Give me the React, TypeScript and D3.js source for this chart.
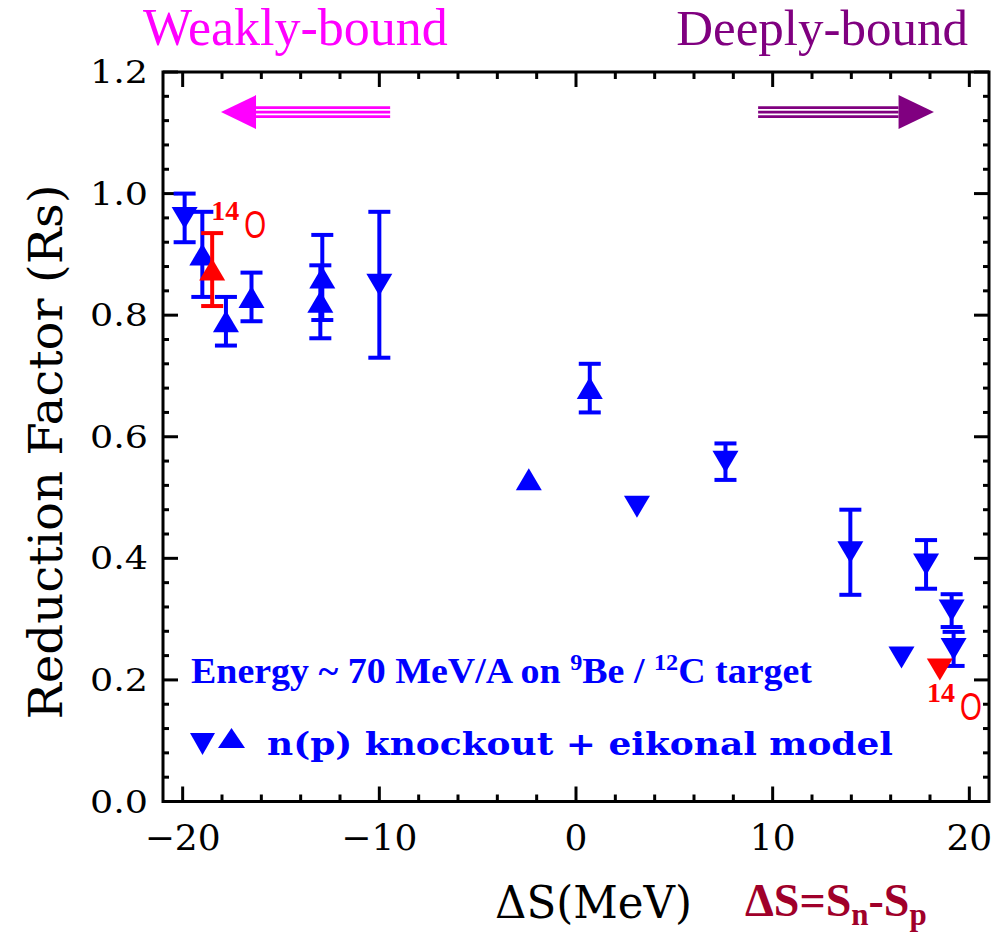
import React from 'react'
import * as d3 from 'd3'

// neutron/proton knockout reduction factors vs ΔS
const downX = [-19.9, -10.0, 3.1, 7.6, 13.95, 17.8, 19.1, 19.2, 16.55]
const downY = [0.96, 0.85, 0.485, 0.559, 0.41, 0.39, 0.314, 0.251, 0.237]
const downErr = [0.04, 0.12, 0, 0.03, 0.07, 0.04, 0.027, 0.028, 0]

const upX = [-19.0, -17.8, -16.5, -12.9, -13.0, -2.4, 0.7]
const upY = [0.9, 0.79, 0.83, 0.862, 0.822, 0.53, 0.68]
const upErr = [0.07, 0.04, 0.04, 0.07, 0.06, 0, 0.04]

// 14O points (red)
const o14UpX = [-18.5]
const o14UpY = [0.875]
const o14UpErr = [0.06]
const o14DownX = [18.5]
const o14DownY = [0.217]
const o14DownErr = [0]

// "14O" label anchors (data units)
const o14LabelX = [-18.55, 17.85]
const o14LabelY = [0.956, 0.163]

const xMajor = [-20, -10, 0, 10, 20]
const xLabels = ['\u221220', '\u221210', '0', '10', '20']
const yMajor = [0, 0.2, 0.4, 0.6, 0.8, 1.0, 1.2]
const yLabels = ['0.0', '0.2', '0.4', '0.6', '0.8', '1.0', '1.2']

// arrows: [tail, headBase, tip] in ΔS, at Rs level
const leftArrow = [-9.45, -16.27, -18.05]
const rightArrow = [9.26, 16.4, 18.2]
const arrowLevel = 1.134

const BLUE = '#0000ff'
const RED = '#ff0000'

const W = 992
const H = 937

export default function App() {
  const x = d3.scaleLinear().domain([-21, 21]).range([163, 989])
  const y = d3.scaleLinear().domain([0, 1.2]).range([801.5, 72])
  const [x0, x1] = x.range()
  const [y0, y1] = y.range()

  const xMinor = d3.range(-20, 21, 2).filter(v => v % 10 !== 0)
  const yMinor = d3.range(0, 1.2001, 0.04).filter(v => Math.abs(v * 5 - Math.round(v * 5)) > 1e-6)

  const tri = (kind, cx, cy, w = 26, h = 22) =>
    kind === 'up'
      ? `M${cx},${cy - h / 2}L${cx + w / 2},${cy + h / 2}L${cx - w / 2},${cy + h / 2}Z`
      : `M${cx - w / 2},${cy - h / 2}L${cx + w / 2},${cy - h / 2}L${cx},${cy + h / 2}Z`

  const series = (xs, ys, errs, kind, color, key) =>
    xs.map((v, i) => {
      const cx = x(v)
      const cy = y(ys[i])
      const e = errs[i]
      return (
        <g key={key + i}>
          {e > 0 && (
            <g stroke={color} strokeWidth={4}>
              <line x1={cx} x2={cx} y1={y(ys[i] + e)} y2={y(ys[i] - e)} />
              <line x1={cx - 11} x2={cx + 11} y1={y(ys[i] + e)} y2={y(ys[i] + e)} />
              <line x1={cx - 11} x2={cx + 11} y1={y(ys[i] - e)} y2={y(ys[i] - e)} />
            </g>
          )}
          <path d={tri(kind, cx, cy)} fill={color} />
        </g>
      )
    })

  const arrow = (pts, color) => {
    const [tail, base, tip] = pts.map(v => x(v))
    const ay = y(arrowLevel)
    return (
      <g>
        {[-4.5, 0, 4.5].map(o => (
          <line key={o} x1={tail} x2={base} y1={ay + o} y2={ay + o} stroke={color} strokeWidth={2.6} />
        ))}
        <path d={`M${tip},${ay}L${base},${ay - 17}L${base},${ay + 17}Z`} fill={color} />
      </g>
    )
  }

  const tickStroke = { stroke: '#000', strokeWidth: 3 }

  return (
    <svg width={W} height={H} style={{ position: 'absolute', left: 0, top: 0, background: '#fff' }}>
      {/* titles */}
      <text x={143} y={45} fontFamily="Liberation Serif" fontSize={52} fill="#ff00ff">Weakly-bound</text>
      <text x={968} y={45} textAnchor="end" fontFamily="Liberation Serif" fontSize={51} fill="#800080">Deeply-bound</text>

      {arrow(leftArrow, '#ff00ff')}
      {arrow(rightArrow, '#800080')}

      {/* ticks on all four sides, pointing inward */}
      <g>
        {xMajor.map(v => (
          <g key={'xM' + v}>
            <line x1={x(v)} x2={x(v)} y1={y0} y2={y0 - 15} {...tickStroke} />
            <line x1={x(v)} x2={x(v)} y1={y1} y2={y1 + 15} {...tickStroke} />
          </g>
        ))}
        {xMinor.map(v => (
          <g key={'xm' + v}>
            <line x1={x(v)} x2={x(v)} y1={y0} y2={y0 - 7} {...tickStroke} />
            <line x1={x(v)} x2={x(v)} y1={y1} y2={y1 + 7} {...tickStroke} />
          </g>
        ))}
        {yMajor.map(v => (
          <g key={'yM' + v}>
            <line x1={x0} x2={x0 + 15} y1={y(v)} y2={y(v)} {...tickStroke} />
            <line x1={x1} x2={x1 - 15} y1={y(v)} y2={y(v)} {...tickStroke} />
          </g>
        ))}
        {yMinor.map(v => (
          <g key={'ym' + v}>
            <line x1={x0} x2={x0 + 6} y1={y(v)} y2={y(v)} {...tickStroke} />
            <line x1={x1} x2={x1 - 6} y1={y(v)} y2={y(v)} {...tickStroke} />
          </g>
        ))}
      </g>
      <rect x={x0} y={y1} width={x1 - x0} height={y0 - y1} fill="none" stroke="#000" strokeWidth={3} />

      {/* tick labels */}
      {xMajor.map((v, i) => (
        <text key={'xl' + v} x={x(v)} y={850} textAnchor="middle" fontFamily="DejaVu Serif" fontSize={36}>{xLabels[i]}</text>
      ))}
      {yMajor.map((v, i) => (
        <text key={'yl' + v} x={148} y={y(v) + 11} textAnchor="end" fontFamily="DejaVu Serif" fontSize={31}
          textLength={58} lengthAdjust="spacingAndGlyphs">{yLabels[i]}</text>
      ))}

      {/* axis titles */}
      <text transform="translate(62,452) rotate(-90)" textAnchor="middle" fontFamily="DejaVu Serif" fontSize={46}
        textLength={535} lengthAdjust="spacingAndGlyphs">Reduction Factor (Rs)</text>
      <text x={495} y={918} fontFamily="DejaVu Serif" fontSize={44} textLength={197} lengthAdjust="spacingAndGlyphs">ΔS(MeV)</text>
      <text x={745} y={916} fontFamily="Liberation Serif" fontWeight="bold" fontSize={46} fill="#a0002a">
        ΔS=S<tspan fontSize={31} dy={9}>n</tspan><tspan dy={-9}>-S</tspan><tspan fontSize={31} dy={9}>p</tspan>
      </text>

      {/* data */}
      {series(upX, upY, upErr, 'up', BLUE, 'u')}
      {series(downX, downY, downErr, 'down', BLUE, 'd')}
      {series(o14UpX, o14UpY, o14UpErr, 'up', RED, 'ru')}
      {series(o14DownX, o14DownY, o14DownErr, 'down', RED, 'rd')}

      {o14LabelX.map((v, i) => (
        <g key={'o14' + i} fill={RED}>
          <text x={x(v)} y={y(o14LabelY[i])} fontFamily="Liberation Serif" fontWeight="bold" fontSize={28}>14</text>
          <text transform={`translate(${x(v) + 33},${y(o14LabelY[i]) + 18}) scale(0.74,1)`} fontFamily="Liberation Sans" fontSize={38}>O</text>
        </g>
      ))}

      {/* legend */}
      <text x={191} y={683} fontFamily="Liberation Serif" fontWeight="bold" fontSize={36} fill={BLUE}
        textLength={621} lengthAdjust="spacingAndGlyphs">
        Energy ~ 70 MeV/A on <tspan fontSize={23} dy={-13}>9</tspan><tspan dy={13}>Be  / </tspan>
        <tspan fontSize={23} dy={-13}>12</tspan><tspan dy={13}>C target</tspan>
      </text>
      <path d={tri('down', 202.5, 744, 25, 22)} fill={BLUE} />
      <path d={tri('up', 231.5, 738, 27, 20)} fill={BLUE} />
      <text x={267} y={755} fontFamily="DejaVu Serif" fontWeight="bold" fontSize={32} fill={BLUE}
        textLength={626} lengthAdjust="spacingAndGlyphs">n(p) knockout + eikonal model</text>
    </svg>
  )
}
